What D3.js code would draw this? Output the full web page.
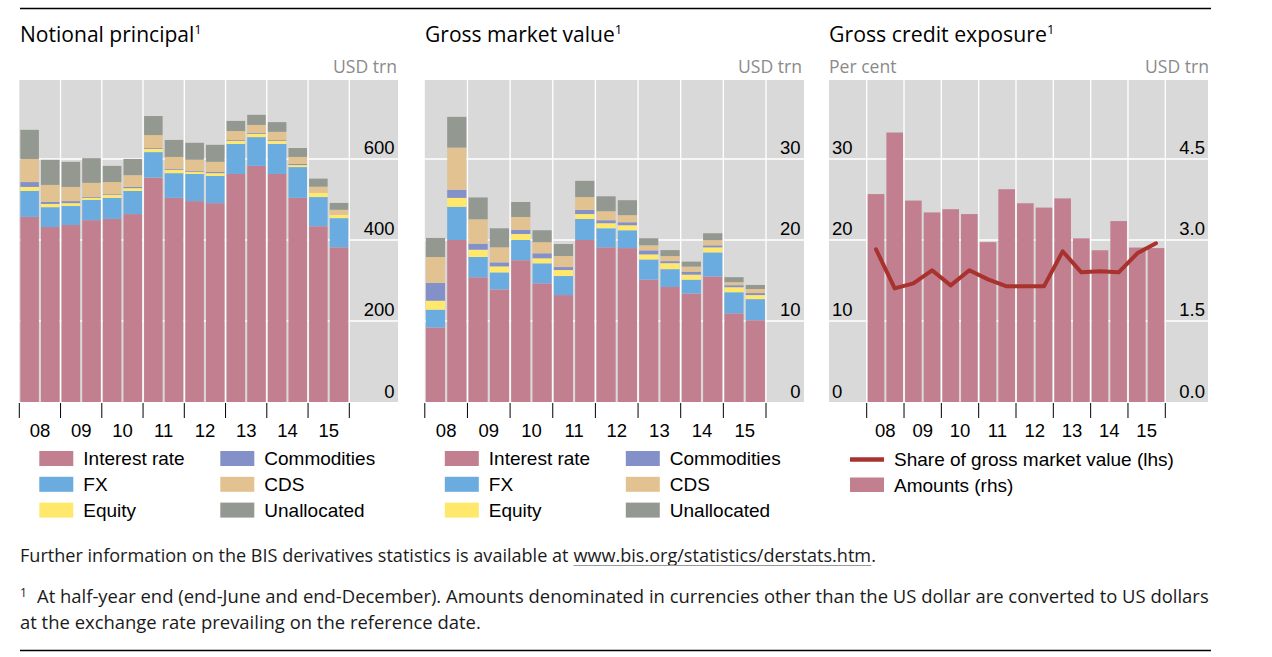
<!DOCTYPE html>
<html><head><meta charset="utf-8">
<script src="https://cdn.jsdelivr.net/npm/d3@7"></script>
<style>body{margin:0;background:#fff}svg{display:block}</style>
</head><body>
<svg id="c" width="1272" height="657"></svg>
<script>
// ---------------- DATA ----------------
const periods = ["2008H1","2008H2","2009H1","2009H2","2010H1","2010H2","2011H1","2011H2",
                 "2012H1","2012H2","2013H1","2013H2","2014H1","2014H2","2015H1","2015H2"];
const yearLabels = ["08","09","10","11","12","13","14","15"];
const seriesNames = ["Interest rate","FX","Equity","Commodities","CDS","Unallocated"];
const seriesColors = ["#c27f8f","#6aace0","#ffe86b","#8490c8","#e2c290","#939890"];

// Notional principal, USD trn
const npInterest = [457,432,437,449,452,464,554,504,496,491,563,583,563,504,434,382];
const npFX       = [64,49,47,50,52,57,63,61,67,67,74,71,74,76,72,72];
const npEquity   = [10,8,7,5,7,7,8,8,5,7,8,8,8,5,10,8];
const npComm     = [12,5,5,2,2,3,2,2,2,3,2,2,2,3,0.5,0.5];
const npCDS      = [57,42,35,35,30,29,32,30,28,25,22,20,20,17,15,12];
const npUnalloc  = [72,62,62,61,40,40,47,42,42,42,25,25,24,22,20,17];
const npTicks = [0,200,400,600];

// Gross market value, USD trn
const gmvInterest = [9.2,20.0,15.4,13.9,17.5,14.65,13.2,20.0,19.1,19.0,15.1,14.2,13.4,15.5,10.95,10.1];
const gmvFX       = [2.2,4.1,2.5,2.1,2.5,2.47,2.35,2.6,2.35,2.2,2.5,2.2,1.7,2.97,2.6,2.6];
const gmvEquity   = [1.1,1.1,0.9,0.74,0.74,0.62,0.74,0.6,0.62,0.62,0.62,0.74,0.62,0.62,0.62,0.5];
const gmvComm     = [2.2,1.0,0.75,0.5,0.5,0.62,0.37,0.5,0.37,0.37,0.5,0.25,0.37,0.25,0.25,0.25];
const gmvCDS      = [3.2,5.2,3.0,1.85,1.6,1.36,1.36,1.6,1.1,0.87,0.62,0.62,0.62,0.62,0.37,0.5];
const gmvUnalloc  = [2.35,3.8,2.7,2.35,1.85,1.48,1.48,2.0,1.85,1.85,0.87,0.74,0.62,0.87,0.62,0.5];
const gmvTicks = [0,10,20,30];

// Gross credit exposure
const gceAmounts = [3.85,4.99,3.73,3.51,3.57,3.48,2.96,3.94,3.68,3.60,3.77,3.03,2.81,3.35,2.86,2.85]; // USD trn (rhs)
const gceShare   = [18.85,14.03,14.65,16.26,14.40,16.26,15.14,14.28,14.28,14.28,18.60,16.01,16.13,16.01,18.35,19.59]; // per cent (lhs)
const gceLeftTicks  = [0,10,20,30];
const gceRightTicks = [0,1.5,3.0,4.5];

// ---------------- LAYOUT ----------------
const svg = d3.select("#c");
const TOP = 80, BOTTOM = 402;
const titleFont = "'Open Sans', 'Noto Sans', sans-serif";
const axisFont = "'Liberation Sans', Arial, sans-serif";
const GRAY = "#d9d9d9";

function fitWidth(sel, target){
  const w = sel.node().getComputedTextLength();
  const fs = parseFloat(sel.attr("font-size"));
  const nfs = fs * target / w;
  sel.attr("font-size", nfs);
  return nfs;
}

// rules
svg.append("line").attr("x1",20).attr("x2",1211).attr("y1",8.5).attr("y2",8.5).attr("stroke","#000").attr("stroke-width",1.3);
svg.append("line").attr("x1",20).attr("x2",1211).attr("y1",650.5).attr("y2",650.5).attr("stroke","#000").attr("stroke-width",1.3);

function title(x, text, w){
  const t = svg.append("text").attr("x",x).attr("y",42).attr("font-family",titleFont)
     .attr("font-size",20).attr("fill","#000").text(text);
  fitWidth(t, w);
  const tw = t.node().getComputedTextLength();
  svg.append("text").attr("x",x+tw).attr("y",34).attr("font-family",titleFont)
     .attr("font-size",13).attr("fill","#000").text("1");
}
let unitSize = null;
function unit(x, text, anchor){
  const t = svg.append("text").attr("x",x).attr("y",73).attr("font-family",titleFont).attr("font-size",16.5)
     .attr("fill","#8a8a8a").attr("text-anchor",anchor).text(text);
  if (unitSize === null) unitSize = fitWidth(t, 64);
  else t.attr("font-size", unitSize);
}

function frame(x0, x1, barStart, barEnd, y, gridTicks, skipFirstV){
  const g = svg.append("g");
  g.append("rect").attr("x",x0).attr("y",TOP).attr("width",x1-x0).attr("height",BOTTOM-TOP).attr("fill",GRAY);
  g.selectAll("line.h").data(gridTicks.filter(d=>d>0)).join("line")
    .attr("x1",x0).attr("x2",x1).attr("y1",d=>y(d)).attr("y2",d=>y(d))
    .attr("stroke","#fff").attr("stroke-width",1.3);
  const yb = d3.scaleBand().domain(yearLabels).range([barStart, barEnd]);
  const bounds = yearLabels.map(d=>yb(d)).concat([barEnd]);
  g.selectAll("line.v").data(skipFirstV ? bounds.slice(1) : bounds).join("line")
    .attr("x1",d=>d).attr("x2",d=>d).attr("y1",TOP).attr("y2",BOTTOM)
    .attr("stroke","#fff").attr("stroke-width",1.3);
  return {yb, bounds};
}

function xAxis(yb, bounds){
  const g = svg.append("g");
  g.selectAll("line").data(bounds).join("line")
    .attr("x1",d=>d).attr("x2",d=>d).attr("y1",BOTTOM+1).attr("y2",418)
    .attr("stroke","#000").attr("stroke-width",1);
  const ax = svg.append("g").attr("transform",`translate(0,437)`)
    .call(d3.axisBottom(yb).tickSize(0).tickPadding(0));
  ax.select(".domain").remove();
  ax.selectAll("text").attr("y",0).attr("dy",null).attr("font-family",axisFont).attr("font-size",18.5).attr("fill","#000");
}

function yAxis(y, ticks, x, side, fmt){
  const gen = side === "right" ? d3.axisLeft(y) : d3.axisRight(y);
  gen.tickValues(ticks).tickSize(0).tickPadding(0);
  if (fmt) gen.tickFormat(fmt);
  const ax = svg.append("g").attr("transform",`translate(${x},0)`).call(gen);
  ax.select(".domain").remove();
  ax.selectAll("text").attr("x",0).attr("dy",null).attr("y",-5)
    .attr("font-family",axisFont).attr("font-size",18.5).attr("fill","#000")
    .attr("text-anchor", side === "right" ? "end" : "start");
}

function stackLegend(ox){
  const g = svg.append("g");
  seriesNames.forEach((name,k)=>{
    const col = Math.floor(k/3), row = k%3;
    const sx = ox + 20 + col*181;
    const sy = 451 + row*25.8;
    g.append("rect").attr("x",sx).attr("y",sy).attr("width",34).attr("height",15).attr("fill",seriesColors[k]);
    g.append("text").attr("x",sx+44).attr("y",sy+14).attr("font-family",axisFont).attr("font-size",19)
      .attr("fill","#000").text(name);
  });
}

function stackedPanel(x0, x1, barEnd, yMax, ticks, cols){
  const y = d3.scaleLinear().domain([0,yMax]).range([BOTTOM,TOP]);
  const xb = d3.scaleBand().domain(periods).range([x0, barEnd]).paddingInner(0.1).paddingOuter(0.05);
  const {yb, bounds} = frame(x0, x1, x0, barEnd, y, ticks, true);
  const table = periods.map((p,i)=>{ const o={period:p}; seriesNames.forEach((s,j)=>o[s]=cols[j][i]); return o; });
  const stacked = d3.stack().keys(seriesNames)(table);
  svg.append("g").selectAll("g").data(stacked).join("g").attr("fill",(d,i)=>seriesColors[i])
    .selectAll("rect").data(d=>d).join("rect")
    .attr("x",d=>xb(d.data.period)).attr("width",xb.bandwidth())
    .attr("y",d=>y(d[1])).attr("height",d=>y(d[0])-y(d[1]));
  xAxis(yb, bounds);
  yAxis(y, ticks, x1-3.5, "right");
  stackLegend(x0);
}

// Panel 1
title(20, "Notional principal", 174.5);
unit(397, "USD trn", "end");
stackedPanel(19.3, 398, 349.3, 795, npTicks,
  [npInterest,npFX,npEquity,npComm,npCDS,npUnalloc]);

// Panel 2
title(425, "Gross market value", 190);
unit(802, "USD trn", "end");
stackedPanel(424.8, 804, 766, 39.75, gmvTicks,
  [gmvInterest,gmvFX,gmvEquity,gmvComm,gmvCDS,gmvUnalloc]);

// Panel 3
title(829, "Gross credit exposure", 218);
unit(829, "Per cent", "start");
unit(1209, "USD trn", "end");
(function(){
  const x0 = 829, x1 = 1208, bs = 866.7, be = 1165.3;
  const yl = d3.scaleLinear().domain([0,39.75]).range([BOTTOM,TOP]);
  const yr = d3.scaleLinear().domain([0,5.9625]).range([BOTTOM,TOP]);
  const xb = d3.scaleBand().domain(periods).range([bs,be]).paddingInner(0.11).paddingOuter(0.055);
  const {yb, bounds} = frame(x0, x1, bs, be, yl, gceLeftTicks, false);
  svg.append("g").selectAll("rect").data(gceAmounts).join("rect")
    .attr("x",(d,i)=>xb(periods[i])).attr("width",xb.bandwidth())
    .attr("y",d=>yr(d)).attr("height",d=>yr(0)-yr(d)).attr("fill","#c27f8f");
  const line = d3.line().x((d,i)=>xb(periods[i])+xb.bandwidth()/2).y(d=>yl(d));
  svg.append("path").attr("d",line(gceShare)).attr("fill","none").attr("stroke","#a8322d")
    .attr("stroke-width",4).attr("stroke-linejoin","round").attr("stroke-linecap","round");
  xAxis(yb, bounds);
  yAxis(yl, gceLeftTicks, 832, "left");
  yAxis(yr, gceRightTicks, 1205, "right", d3.format(".1f"));
  // legend
  const g = svg.append("g");
  g.append("line").attr("x1",850).attr("x2",884).attr("y1",459.5).attr("y2",459.5).attr("stroke","#a8322d").attr("stroke-width",4.5);
  g.append("text").attr("x",894).attr("y",466).attr("font-family",axisFont).attr("font-size",19).text("Share of gross market value (lhs)");
  g.append("rect").attr("x",850).attr("y",477.5).attr("width",34).attr("height",14.5).attr("fill","#c27f8f");
  g.append("text").attr("x",894).attr("y",491.5).attr("font-family",axisFont).attr("font-size",19).text("Amounts (rhs)");
})();

// ---------------- FOOTER ----------------
(function(){
  const fc = "#1a1a1a";
  const t1 = svg.append("text").attr("x",20).attr("y",562).attr("font-family",titleFont).attr("font-size",16).attr("fill",fc)
    .text("Further information on the BIS derivatives statistics is available at\u00a0");
  const pre = t1.node().getComputedTextLength();
  const url = svg.append("text").attr("x",20+pre).attr("y",562).attr("font-family",titleFont).attr("font-size",16).attr("fill",fc)
    .text("www.bis.org/statistics/derstats.htm");
  const uw = url.node().getComputedTextLength();
  const dot = svg.append("text").attr("x",20+pre+uw).attr("y",562).attr("font-family",titleFont).attr("font-size",16).attr("fill",fc).text(".");
  const total = pre + uw + dot.node().getComputedTextLength();
  const k = 856/total, fs = 16*k;
  t1.attr("font-size",fs);
  url.attr("font-size",fs).attr("x",20+pre*k);
  dot.attr("font-size",fs).attr("x",20+(pre+uw)*k);
  svg.append("line").attr("x1",20+pre*k).attr("x2",20+(pre+uw)*k).attr("y1",565.5).attr("y2",565.5)
    .attr("stroke","#9a9a9a").attr("stroke-width",1);

  svg.append("text").attr("x",20).attr("y",597).attr("font-family",titleFont).attr("font-size",12).attr("fill",fc).text("1");
  const t2 = svg.append("text").attr("x",37).attr("y",603).attr("font-family",titleFont).attr("font-size",16).attr("fill",fc)
    .text("At half-year end (end-June and end-December). Amounts denominated in currencies other than the US dollar are converted to US dollars");
  fitWidth(t2, 1173);
  svg.append("text").attr("x",20).attr("y",629).attr("font-family",titleFont).attr("font-size",t2.attr("font-size")).attr("fill",fc)
    .text("at the exchange rate prevailing on the reference date.");
})();
</script>
</body></html>
